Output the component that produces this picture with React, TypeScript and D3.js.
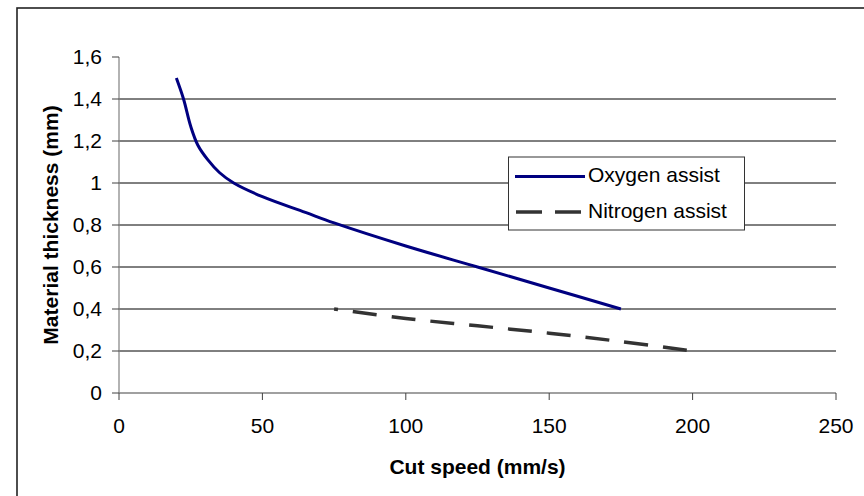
import React from "react";
import * as d3 from "d3";

const oxygenSpeed = [20, 22.5, 25, 27.5, 31, 35, 40, 50, 65, 75, 100, 125, 150, 175];
const oxygenThickness = [1.5, 1.4, 1.27, 1.18, 1.11, 1.05, 1.0, 0.935, 0.86, 0.81, 0.7, 0.6, 0.5, 0.4];
const nitrogenSpeed = [75, 100, 125, 150, 175, 200];
const nitrogenThickness = [0.4, 0.355, 0.32, 0.285, 0.245, 0.2];
const xTicks = [0, 50, 100, 150, 200, 250];
const yTicks = [0, 0.2, 0.4, 0.6, 0.8, 1, 1.2, 1.4, 1.6];
const seriesNames = ["Oxygen assist", "Nitrogen assist"];
const xTitle = "Cut speed (mm/s)";
const yTitle = "Material thickness (mm)";

const W = 864;
const H = 496;
const L = 119, R = 836, T = 57, B = 393;
const FONT = "Arial, 'Liberation Sans', sans-serif";

export default function App() {
  const x = d3.scaleLinear().domain([0, 250]).range([L, R]);
  const y = d3.scaleLinear().domain([0, 1.6]).range([B, T]);
  const fmt = (v: number) => String(v).replace(".", ",");

  const line = d3
    .line<[number, number]>()
    .x((d) => x(d[0]))
    .y((d) => y(d[1]))
    .curve(d3.curveCatmullRom.alpha(0.5));
  const oxy = oxygenSpeed.map((s, i) => [s, oxygenThickness[i]] as [number, number]);
  const nit = nitrogenSpeed.map((s, i) => [s, nitrogenThickness[i]] as [number, number]);

  return (
    <svg
      width={W}
      height={H}
      style={{ position: "absolute", left: 0, top: 0, background: "#fff" }}
    >
      <rect x={17} y={8} width={W} height={H} fill="#fff" stroke="#222" strokeWidth={1.6} />
      {yTicks.filter((t) => t > 0 && t < 1.6).map((t) => (
        <line key={"g" + t} x1={L} x2={R} y1={y(t)} y2={y(t)} stroke="#000" strokeWidth={1} />
      ))}
      <line x1={L} x2={L} y1={T} y2={B} stroke="#808080" strokeWidth={1.2} />
      {yTicks.map((t) => (
        <g key={"y" + t}>
          <line x1={L - 7} x2={L} y1={y(t)} y2={y(t)} stroke="#404040" strokeWidth={1} />
          <text x={102} y={y(t)} dy="0.35em" textAnchor="end" fontFamily={FONT} fontSize={21} fill="#000">
            {fmt(t)}
          </text>
        </g>
      ))}
      <line x1={L} x2={R} y1={B} y2={B} stroke="#808080" strokeWidth={1.5} />
      {xTicks.map((t) => (
        <g key={"x" + t}>
          <line x1={x(t)} x2={x(t)} y1={B} y2={B + 7} stroke="#404040" strokeWidth={1} />
          <text x={x(t)} y={433} textAnchor="middle" fontFamily={FONT} fontSize={21} fill="#000">
            {t}
          </text>
        </g>
      ))}
      <path d={line(oxy) || ""} fill="none" stroke="#000080" strokeWidth={3} />
      <path
        d={line(nit) || ""}
        fill="none"
        stroke="#333333"
        strokeWidth={3.5}
        strokeDasharray="24 15"
        strokeDashoffset={20}
      />
      <rect x={508.5} y={157} width={236} height={73} fill="#fff" stroke="#333" strokeWidth={1} />
      <line x1={515} x2={585} y1={176.5} y2={176.5} stroke="#000080" strokeWidth={3} />
      <text x={588} y={182} fontFamily={FONT} fontSize={21} fill="#000">{seriesNames[0]}</text>
      <line x1={516} x2={582} y1={212} y2={212} stroke="#333333" strokeWidth={3.5} strokeDasharray="26 13" />
      <text x={588} y={218} fontFamily={FONT} fontSize={21} fill="#000">{seriesNames[1]}</text>
      <text x={(L + R) / 2} y={474} textAnchor="middle" fontFamily={FONT} fontWeight="bold" fontSize={21} fill="#000">
        {xTitle}
      </text>
      <text
        transform={`translate(58, ${(T + B) / 2}) rotate(-90)`}
        textAnchor="middle"
        fontFamily={FONT}
        fontWeight="bold"
        fontSize={21}
        fill="#000"
      >
        {yTitle}
      </text>
    </svg>
  );
}
